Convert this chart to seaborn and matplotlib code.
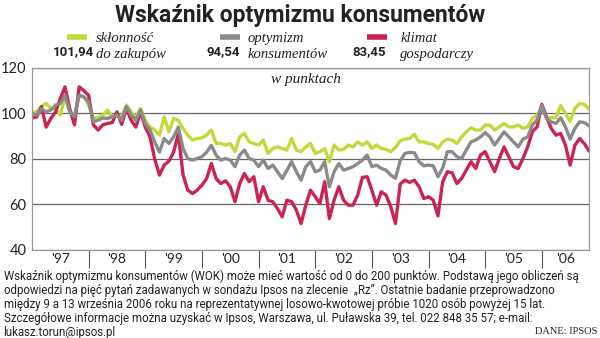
import numpy as np
import pandas as pd
import matplotlib
matplotlib.use("Agg")
import matplotlib.pyplot as plt
from matplotlib.lines import Line2D
import seaborn as sns

# ---------------- data (monthly, Jan 1997 .. ) ----------------
sklonnosc = [100.7, 100.7, 103, 104.4, 102.2, 102.2, 99.3, 107.3, 100.7, 99.3, 108, 107.3,
             103.7, 97.8, 98.5, 99.3, 101.5, 98.5, 99.3, 98.5, 103.7, 100.7, 98.5, 102.2,
             97, 94, 92.7, 90.5, 98.5, 92, 97.8, 97, 93.4, 90.5, 88.3, 89,
             89.3, 90.5, 92.7, 86.8, 86.8, 86.1, 86.8, 83.2, 89.7, 91.2, 87.5, 86.8,
             86.1, 88.3, 82.4, 84.6, 85.3, 84.6, 83.9, 89, 83.9, 83.2, 85.3, 86.8,
             82.4, 83.2, 84.6, 78.8, 86.1, 83.9, 84.2, 86.1, 85.3, 87.5, 86.1, 87.5,
             84.6, 86.1, 84.6, 84.2, 83.2, 85, 88, 88.7, 89, 90.8, 87.5, 87.5,
             86.8, 86.4, 84.6, 87.5, 88.7, 88.3, 86.8, 89.7, 91.9, 93.7, 92.7, 92.7,
             94.9, 94.9, 92.7, 94.1, 95.6, 94.1, 94.1, 94.9, 93.4, 94.1, 97.8, 99.3,
             103, 97.8, 98.1, 98.1, 103.5, 100, 96.6, 102.2, 104.4, 104, 101.94]
optymizm = [100, 99.3, 102, 100.7, 101.5, 103.7, 104.4, 108, 100.7, 98.5, 108, 107.3,
            105, 96.3, 97, 98, 97.8, 98.5, 99.3, 97, 103, 99.3, 97, 101.5,
            95.6, 92.7, 87.5, 83, 89, 86.8, 89.7, 94, 84.6, 80.2, 79.5, 80.2,
            81, 83, 86, 81.7, 79.5, 80.2, 79.5, 76.6, 81.7, 83.9, 80.2, 79.5,
            76.6, 79.5, 75.8, 77.3, 74.4, 71.4, 75, 78.8, 74.4, 70.7, 76.6, 78.8,
            74.4, 75.1, 78.8, 67.8, 74.4, 78, 75.1, 75.8, 76.6, 78, 79.5, 81.7,
            76.6, 77.3, 75.8, 75.1, 72.9, 71.5, 79.2, 82.4, 82.9, 82.7, 78.8, 77,
            77.3, 77, 72.2, 76, 83.2, 83.2, 81, 80.2, 83.9, 87.5, 88.3, 89.7,
            91.6, 89.7, 86.1, 89, 91.9, 89.7, 87.5, 85.3, 88.7, 89.7, 94.9, 97.1,
            103.5, 97.8, 96.3, 95.6, 98.1, 94.1, 88.7, 93.4, 96.3, 96, 94.54]
klimat = [98, 98.5, 103, 94, 97.8, 100.7, 106.6, 111.7, 102, 95, 111.7, 110,
          108, 95, 92.7, 95, 95.6, 96, 100.7, 95.2, 102.2, 97, 94, 100.7,
          94, 89.7, 80, 72.9, 77.3, 79, 83, 91, 73, 66.3, 64.8, 66.3,
          68.5, 71.4, 78, 71.4, 69.2, 70.4, 67.8, 61.2, 69.2, 73.6, 70, 72.2,
          61.2, 67.8, 61.9, 61.2, 58.2, 54.6, 61.9, 61.2, 57.5, 51.6, 59.7, 66.3,
          63.4, 60.4, 70, 53.8, 61.9, 67.8, 61.9, 59.7, 59.7, 64.1, 71.9, 72.2,
          66.3, 59.7, 65.6, 64.1, 59, 51.6, 69, 70.7, 69.7, 70.7, 67.8, 62.6,
          63.4, 61.9, 55, 70, 74.4, 73.9, 69.2, 71.4, 75.1, 78.8, 75.8, 81.7,
          83.2, 78.8, 74.4, 80.2, 85.3, 81, 76.6, 75.8, 80.2, 85.3, 92, 94.1,
          104, 98.5, 93.4, 90.5, 91.2, 86.1, 77.3, 86, 89, 86.8, 83.45]

series_names = ["skłonność do zakupów", "optymizm konsumentów", "klimat gospodarczy"]
legend_top = ["skłonność", "optymizm", "klimat"]
legend_bottom = ["do zakupów", "konsumentów", "gospodarczy"]
latest = ["101,94", "94,54", "83,45"]
year_labels = ["'97", "'98", "'99", "'00", "'01", "'02", "'03", "'04", "'05", "'06"]
y_ticks = [40, 60, 80, 100, 120]

colors = ["#c3d83a", "#8a8a8a", "#c92452"]

months = np.arange(len(klimat))
df = pd.concat([
    pd.DataFrame({"m": months, "v": sklonnosc, "s": series_names[0]}),
    pd.DataFrame({"m": months, "v": optymizm, "s": series_names[1]}),
    pd.DataFrame({"m": months, "v": klimat, "s": series_names[2]}),
])

sns.set_theme(style="white")
plt.rcParams["font.family"] = ["Lato", "DejaVu Sans"]

fig = plt.figure(figsize=(6, 3.38), dpi=100)
ax = fig.add_axes([0.0533, 0.2604, 0.9284, 0.5386])

# draw order: green, red, gray on top
for name, col in [(series_names[0], colors[0]), (series_names[2], colors[2]), (series_names[1], colors[1])]:
    sns.lineplot(data=df[df["s"] == name], x="m", y="v", color=col, linewidth=2.4,
                 estimator=None, sort=False, ax=ax, legend=False)

ax.set_xlim(0, months[-1])
ax.set_ylim(40, 120)
ax.set_yticks(y_ticks)
ax.set_yticklabels([str(t) for t in y_ticks], fontsize=10.5, color="#222222")
ax.grid(axis="y", color="#666666", linewidth=0.9)
ax.grid(axis="x", visible=False)
ax.set_xlabel("")
ax.set_ylabel("")
for sp in ax.spines.values():
    sp.set_color("#9a9a9a")
    sp.set_linewidth(0.9)

# year separators and labels
sep = np.arange(12, months[-1], 12)
ax.set_xticks(sep)
ax.set_xticklabels([""] * len(sep))
ax.tick_params(axis="x", which="major", direction="out", length=13, width=0.8, color="#555555", bottom=True)
lab_pos = [6 + 12 * i for i in range(9)] + [113]
ax.set_xticks(lab_pos, minor=True)
ax.set_xticklabels(year_labels, minor=True, fontsize=10, color="#222222")
ax.tick_params(axis="x", which="minor", length=0, pad=2)
ax.tick_params(axis="y", length=0, pad=4)

# title
fig.text(0.5, 0.953, "Wskaźnik optymizmu konsumentów", ha="center", va="center",
         fontsize=16.5, fontweight="bold", family=["Roboto", "DejaVu Sans"], color="#222222")

# legend
leg_line_x = [(0.112, 0.145), (0.367, 0.400), (0.612, 0.645)]
val_x = [0.157, 0.400, 0.643]
lab_x = [0.160, 0.413, 0.667]
for i in range(3):
    fig.add_artist(Line2D(leg_line_x[i], [0.890, 0.890], transform=fig.transFigure,
                          color=colors[i], linewidth=4, solid_capstyle="butt"))
    fig.text(lab_x[i], 0.887, legend_top[i], ha="left", va="center", fontsize=10.5,
             style="italic", family=["Liberation Serif", "DejaVu Serif"], color="#222222")
    fig.text(lab_x[i], 0.840, legend_bottom[i], ha="left", va="center", fontsize=10.5,
             style="italic", family=["Liberation Serif", "DejaVu Serif"], color="#222222")
    fig.text(val_x[i], 0.846, latest[i], ha="right", va="center", fontsize=9.5,
             fontweight="bold", family=["Roboto", "DejaVu Sans"], color="#222222")

fig.text(0.51, 0.765, "w punktach", ha="center", va="center", fontsize=11,
         style="italic", family=["Liberation Serif", "DejaVu Serif"], color="#222222")

footer = [
    "Wskaźnik optymizmu konsumentów (WOK) może mieć wartość od 0 do 200 punktów. Podstawą jego obliczeń są",
    "odpowiedzi na pięć pytań zadawanych w sondażu Ipsos na zlecenie  „Rz”. Ostatnie badanie przeprowadzono",
    "między 9 a 13 września 2006 roku na reprezentatywnej losowo-kwotowej próbie 1020 osób powyżej 15 lat.",
    "Szczegółowe informacje można uzyskać w Ipsos, Warszawa, ul. Puławska 39, tel. 022 848 35 57; e-mail:",
    "lukasz.torun@ipsos.pl",
]
for i, line in enumerate(footer):
    fig.text(0.006, 0.184 - i * 0.042, line, ha="left", va="center", fontsize=8.3,
             family=["Liberation Sans Narrow", "Roboto", "DejaVu Sans"], color="#222222")
fig.text(0.995, 0.020, "DANE: IPSOS", ha="right", va="center", fontsize=7.5,
         family=["Liberation Serif", "DejaVu Serif"], color="#222222")

fig.savefig("out.png", dpi=100)
